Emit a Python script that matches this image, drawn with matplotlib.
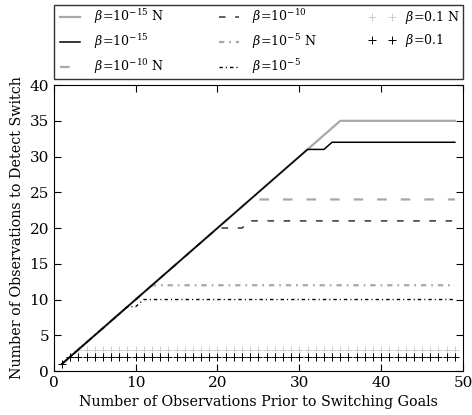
import matplotlib
matplotlib.use('Agg')
import matplotlib.pyplot as plt

plt.rcParams['font.family'] = 'DejaVu Serif'
plt.rcParams['mathtext.fontset'] = 'dejavuserif'

x = list(range(1, 50))

# values
b15_n = list(range(1, 36)) + [35] * 14
b15 = list(range(1, 32)) + [31, 31] + [32] * 16
b10_n = list(range(1, 25)) + [24] * 25
b10 = list(range(1, 21)) + [20, 20, 20] + [21] * 26
b5_n = list(range(1, 13)) + [12] * 37
b5 = list(range(1, 10)) + [9] + [10] * 39
b01_n = [1, 2] + [3] * 47
b01 = [1] + [2] * 48

LIGHT = '#a8a8a8'
PALE = '#cccccc'
DASH = (4.3, 6.3)
DASHDOT = (2.4, 2.2, 0.8, 2.2)

fig = plt.figure(figsize=(4.72, 4.15), dpi=100)
ax = fig.add_axes([0.114, 0.106, 0.867, 0.689])

ax.plot(x, b15_n, color=LIGHT, lw=1.6, zorder=2, label=r'$\beta\!=\!10^{-15}$ N')
ax.plot(x, b15, color='black', lw=1.1, zorder=5, label=r'$\beta\!=\!10^{-15}$')
ax.plot(x, b10_n, color=LIGHT, lw=1.6, dashes=DASH, zorder=2, label=r'$\beta\!=\!10^{-10}$ N')
ax.plot(x, b10, color='#333333', lw=1.1, dashes=DASH, zorder=3, label=r'$\beta\!=\!10^{-10}$')
ax.plot(x, b5_n, color=LIGHT, lw=1.6, dashes=DASHDOT, zorder=2, label=r'$\beta\!=\!10^{-5}$ N')
ax.plot(x, b5, color='black', lw=1, dashes=DASHDOT, zorder=3, label=r'$\beta\!=\!10^{-5}$')
ax.plot(x, b01_n, color=PALE, lw=0, marker='+', ms=5.5, mew=0.7, zorder=2, label=r'$\beta\!=\!0.1$ N')
ax.plot(x, b01, color='black', lw=0, marker='+', ms=5.5, mew=0.7, zorder=3, label=r'$\beta\!=\!0.1$')

ax.set_xlim(0, 50)
ax.set_ylim(0, 40)
ax.set_xticks([0, 10, 20, 30, 40, 50])
ax.set_yticks(range(0, 41, 5))
ax.tick_params(direction='in', top=True, right=True, length=5, labelsize=11)
ax.set_xlabel('Number of Observations Prior to Switching Goals', fontsize=10.3)
ax.set_ylabel('Number of Observations to Detect Switch', fontsize=10.3)

leg = ax.legend(loc='lower left', bbox_to_anchor=(0, 1.022, 1, 0.2), mode='expand',
                ncol=3, numpoints=2, fontsize=9, fancybox=False,
                edgecolor='black', borderaxespad=0.0, labelspacing=0.5,
                borderpad=0.2, handlelength=2.2)
leg.get_frame().set_linewidth(1)

fig.savefig('out.png', dpi=100)
